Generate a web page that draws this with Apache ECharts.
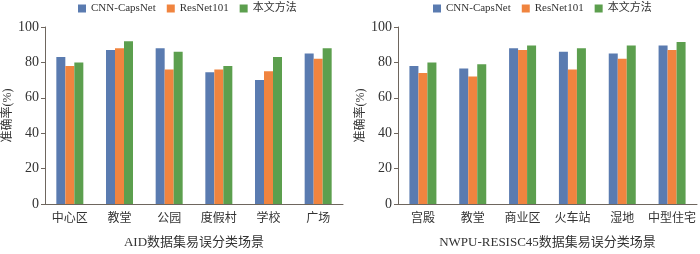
<!DOCTYPE html>
<html><head><meta charset="utf-8">
<script src="https://cdn.jsdelivr.net/npm/echarts@6/dist/echarts.min.js"></script>
<style>html,body{margin:0;padding:0;background:#fff}#c{width:700px;height:254px}</style>
</head><body><div id="c"></div>
<script>
const seriesNames = ['CNN-CapsNet', 'ResNet101', '本文方法'];
const aidCategories = ['中心区', '教堂', '公园', '度假村', '学校', '广场'];
const aidCNN = [83, 87, 88, 74.5, 70, 85];
const aidResNet = [78, 88, 76, 76, 75, 82];
const aidOurs = [80, 92, 86, 78, 83, 88];
const nwpuCategories = ['宫殿', '教堂', '商业区', '火车站', '湿地', '中型住宅'];
const nwpuCNN = [78, 76.5, 88, 86, 85, 89.5];
const nwpuResNet = [74, 72, 87, 76, 82, 87];
const nwpuOurs = [80, 79, 89.5, 88, 89.5, 91.5];
const yTicks = [0, 20, 40, 60, 80, 100];
const xNames = ['AID数据集易误分类场景', 'NWPU-RESISC45数据集易误分类场景'];
const yName = '准确率(%)';

const colors = ['#5a7bb0', '#f0843f', '#5c9f4e'];
const font = '"Liberation Serif", "Noto Sans CJK SC", serif';
const axisColor = '#6e665e';
const textColor = '#333';

function xAxis(idx, cats) {
  return {
    type: 'category', gridIndex: idx, data: cats,
    axisLine: {lineStyle: {color: axisColor, width: 1}},
    axisTick: {show: true, inside: true, length: 3, alignWithLabel: true, lineStyle: {color: axisColor}},
    axisLabel: {color: textColor, fontSize: 12, fontFamily: font, margin: 9, interval: 0},
    name: xNames[idx], nameLocation: 'middle', nameGap: 32,
    nameTextStyle: {color: textColor, fontSize: 13, fontFamily: font}
  };
}
function yAxis(idx) {
  return {
    type: 'value', gridIndex: idx, min: yTicks[0], max: yTicks[yTicks.length - 1], interval: 20,
    axisLine: {show: true, lineStyle: {color: axisColor, width: 1}},
    axisTick: {show: true, length: 4, lineStyle: {color: axisColor}},
    splitLine: {show: false},
    axisLabel: {color: textColor, fontSize: 14, fontFamily: font, margin: 6},
    name: yName, nameLocation: 'middle', nameGap: 31, nameRotate: 90,
    nameTextStyle: {color: textColor, fontSize: 12, fontFamily: font}
  };
}
function bar(name, data, idx, ci) {
  return {
    type: 'bar', name: name, data: data, xAxisIndex: idx, yAxisIndex: idx,
    barWidth: 9, barGap: '0%', itemStyle: {color: colors[ci]}
  };
}
const legendCommon = {
  itemWidth: 8, itemHeight: 8, icon: 'rect', itemGap: 11, top: 3, padding: 0,
  textStyle: {color: textColor, fontSize: 11, fontFamily: font}, selectedMode: false, data: seriesNames
};

const chart = echarts.init(document.getElementById('c'), null, {renderer: 'canvas'});
chart.setOption({
  animation: false,
  color: colors,
  legend: [
    Object.assign({}, legendCommon, {left: 78}),
    Object.assign({}, legendCommon, {left: 433})
  ],
  grid: [
    {left: 45, right: 357, top: 27, bottom: 42},
    {left: 398, right: 3, top: 27, bottom: 42}
  ],
  xAxis: [xAxis(0, aidCategories), xAxis(1, nwpuCategories)],
  yAxis: [yAxis(0), yAxis(1)],
  series: [
    bar(seriesNames[0], aidCNN, 0, 0),
    bar(seriesNames[1], aidResNet, 0, 1),
    bar(seriesNames[2], aidOurs, 0, 2),
    bar(seriesNames[0], nwpuCNN, 1, 0),
    bar(seriesNames[1], nwpuResNet, 1, 1),
    bar(seriesNames[2], nwpuOurs, 1, 2)
  ]
});
</script></body></html>
